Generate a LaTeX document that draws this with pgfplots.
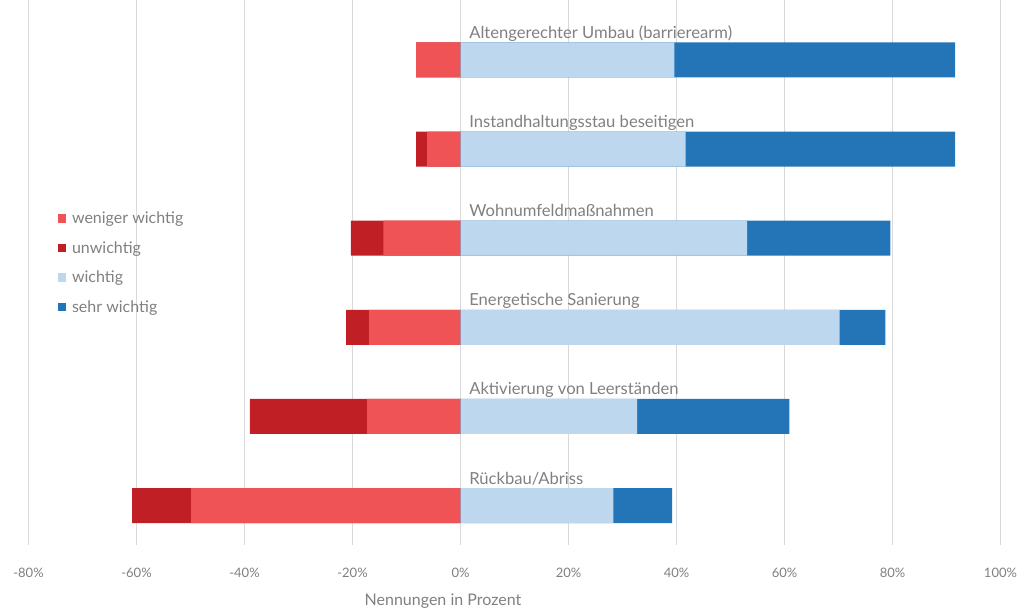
\documentclass[border=0pt]{standalone}
\usepackage{pgfplots}
\pgfplotsset{compat=1.18}
\usepackage{pgfplotstable}
\usepackage{fontspec}
\setmainfont{Lato}
\definecolor{wenig}{HTML}{F05355}
\definecolor{unw}{HTML}{C01F26}
\definecolor{wich}{HTML}{BDD7EE}
\definecolor{sehr}{HTML}{2475B7}
\definecolor{txt}{HTML}{808080}
\definecolor{gridc}{HTML}{D9D9D9}

% shares in percent: weniger wichtig, unwichtig, wichtig, sehr wichtig
\pgfplotstableread{
y wn un wi sw
0 49.9 10.9 28.3 10.9
1 17.3 21.7 32.7 28.2
2 16.9 4.3 70.2 8.5
3 14.3 6.0 53.1 26.5
4 6.2 2.0 41.7 49.9
5 8.2 0.0 39.6 52.0
}\data

\begin{document}
\begin{tikzpicture}
\useasboundingbox (0,0) rectangle (1030pt,611pt);
\begin{axis}[
  at={(28.5pt,66pt)}, anchor=south west,
  scale only axis, width=972pt, height=545pt,
  xmin=-80, xmax=100, ymin=-0.443, ymax=5.673,
  xbar, bar width=35pt, bar shift=0pt,
  axis line style={draw=none},
  major tick length=0pt,
  ytick=\empty,
  xtick={-80,-60,...,100},
  xmajorgrids, major grid style={draw=gridc, line width=1pt},
  /pgf/number format/assume math mode=true,
  xticklabel={\pgfmathprintnumber{\tick}\%},
  xticklabel style={font=\fontsize{13}{15}\selectfont, text=txt, yshift=-20pt},
  legend style={draw=none, fill=none, at={(0.03,0.615)}, anchor=north west,
    font=\fontsize{16}{19}\selectfont, text=txt, row sep=12.3pt,
    legend cell align=left, inner sep=0pt},
  legend image code/.code={\fill[#1, draw=none] (0pt,-4pt) rectangle (8.5pt,4.5pt); \path (12pt,0pt);},
]
\addplot[fill=unw, draw=none, forget plot] table[x expr={-(\thisrow{wn}+\thisrow{un})}, y=y] {\data};
\addplot[fill=wenig, draw=none, forget plot] table[x expr={-\thisrow{wn}}, y=y] {\data};
\addplot[fill=sehr, draw=none, forget plot] table[x expr={\thisrow{wi}+\thisrow{sw}}, y=y] {\data};
\addplot[fill=wich, draw=none, forget plot] table[x=wi, y=y] {\data};
\addlegendimage{fill=wenig}
\addlegendentry{weniger wichtig}
\addlegendimage{fill=unw}
\addlegendentry{unwichtig}
\addlegendimage{fill=wich}
\addlegendentry{wichtig}
\addlegendimage{fill=sehr}
\addlegendentry{sehr wichtig}
\begin{scope}[every node/.style={anchor=base west, text=txt, font=\fontsize{16.6}{19}\selectfont, inner sep=0pt, yshift=21.5pt}]
\node at (axis cs:1.6,5) {Altengerechter Umbau (barrierearm)};
\node at (axis cs:1.6,4) {Instandhaltungsstau beseitigen};
\node at (axis cs:1.6,3) {Wohnumfeldmaßnahmen};
\node at (axis cs:1.6,2) {Energetische Sanierung};
\node at (axis cs:1.6,1) {Aktivierung von Leerständen};
\node at (axis cs:1.6,0) {Rückbau/Abriss};
\end{scope}
\end{axis}
\node[text=txt, font=\fontsize{16}{18}\selectfont] at (443pt,10pt) {Nennungen in Prozent};
\end{tikzpicture}
\end{document}
